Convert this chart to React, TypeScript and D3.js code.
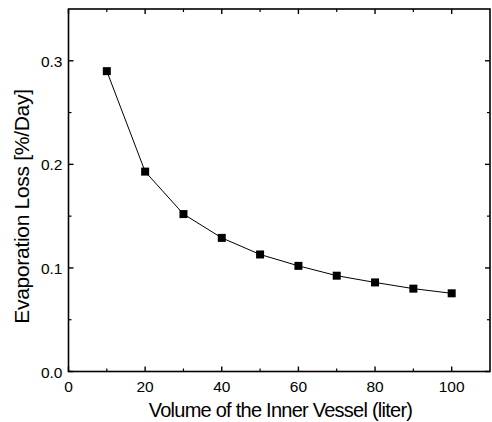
import React from "react";
import * as d3 from "d3";

const volumes = [10, 20, 30, 40, 50, 60, 70, 80, 90, 100];
const losses = [0.29, 0.193, 0.152, 0.129, 0.113, 0.102, 0.0925, 0.086, 0.080, 0.0755];
const xMajorTicks = [0, 20, 40, 60, 80, 100];
const xMinorTicks = [10, 30, 50, 70, 90];
const yMajorTicks = [0.0, 0.1, 0.2, 0.3];
const yMinorTicks = [0.05, 0.15, 0.25];

const W = 492, H = 422;
const L = 68.5, R = 490, T = 9, B = 371.5;
const FONT = "Liberation Sans, Arial, sans-serif";

export default function App() {
  const x = d3.scaleLinear().domain([0, 110]).range([L, R]);
  const y = d3.scaleLinear().domain([0, 0.35]).range([B, T]);
  const line = d3.line<number>().x((_, i) => x(volumes[i])).y((d) => y(d));
  const maj = 5, min = 3;
  return (
    <svg width={W} height={H} style={{ position: "absolute", left: 0, top: 0, background: "#fff" }}>
      <rect x={L} y={T} width={R - L} height={B - T} fill="none" stroke="#000" strokeWidth={1.6} />
      {xMajorTicks.map((t) => (
        <g key={"xm" + t}>
          <line x1={x(t)} x2={x(t)} y1={B} y2={B - maj} stroke="#000" strokeWidth={1.4} />
          <line x1={x(t)} x2={x(t)} y1={T} y2={T + maj} stroke="#000" strokeWidth={1.4} />
          <text x={x(t)} y={B + 20} textAnchor="middle" fontFamily={FONT} fontSize={15.5}>{t}</text>
        </g>
      ))}
      {xMinorTicks.map((t) => (
        <g key={"xn" + t}>
          <line x1={x(t)} x2={x(t)} y1={B} y2={B - min} stroke="#000" strokeWidth={1.2} />
          <line x1={x(t)} x2={x(t)} y1={T} y2={T + min} stroke="#000" strokeWidth={1.2} />
        </g>
      ))}
      {yMajorTicks.map((t) => (
        <g key={"ym" + t}>
          <line x1={L} x2={L + maj} y1={y(t)} y2={y(t)} stroke="#000" strokeWidth={1.4} />
          <line x1={R} x2={R - maj} y1={y(t)} y2={y(t)} stroke="#000" strokeWidth={1.4} />
          <text x={L - 6} y={y(t) + 6} textAnchor="end" fontFamily={FONT} fontSize={15.5}>{t.toFixed(1)}</text>
        </g>
      ))}
      {yMinorTicks.map((t) => (
        <g key={"yn" + t}>
          <line x1={L} x2={L + min} y1={y(t)} y2={y(t)} stroke="#000" strokeWidth={1.2} />
          <line x1={R} x2={R - min} y1={y(t)} y2={y(t)} stroke="#000" strokeWidth={1.2} />
        </g>
      ))}
      <path d={line(losses) || ""} fill="none" stroke="#000" strokeWidth={1} />
      {losses.map((v, i) => (
        <rect key={i} x={x(volumes[i]) - 4} y={y(v) - 4} width={8} height={8} fill="#000" />
      ))}
      <text x={280.5} y={417} textAnchor="middle" fontFamily={FONT} fontSize={20} letterSpacing={-0.75}>
        Volume of the Inner Vessel (liter)
      </text>
      <text transform={`translate(28.5, 206.5) rotate(-90)`} textAnchor="middle" fontFamily={FONT} fontSize={21} letterSpacing={-0.3}>
        Evaporation Loss [%/Day]
      </text>
    </svg>
  );
}
